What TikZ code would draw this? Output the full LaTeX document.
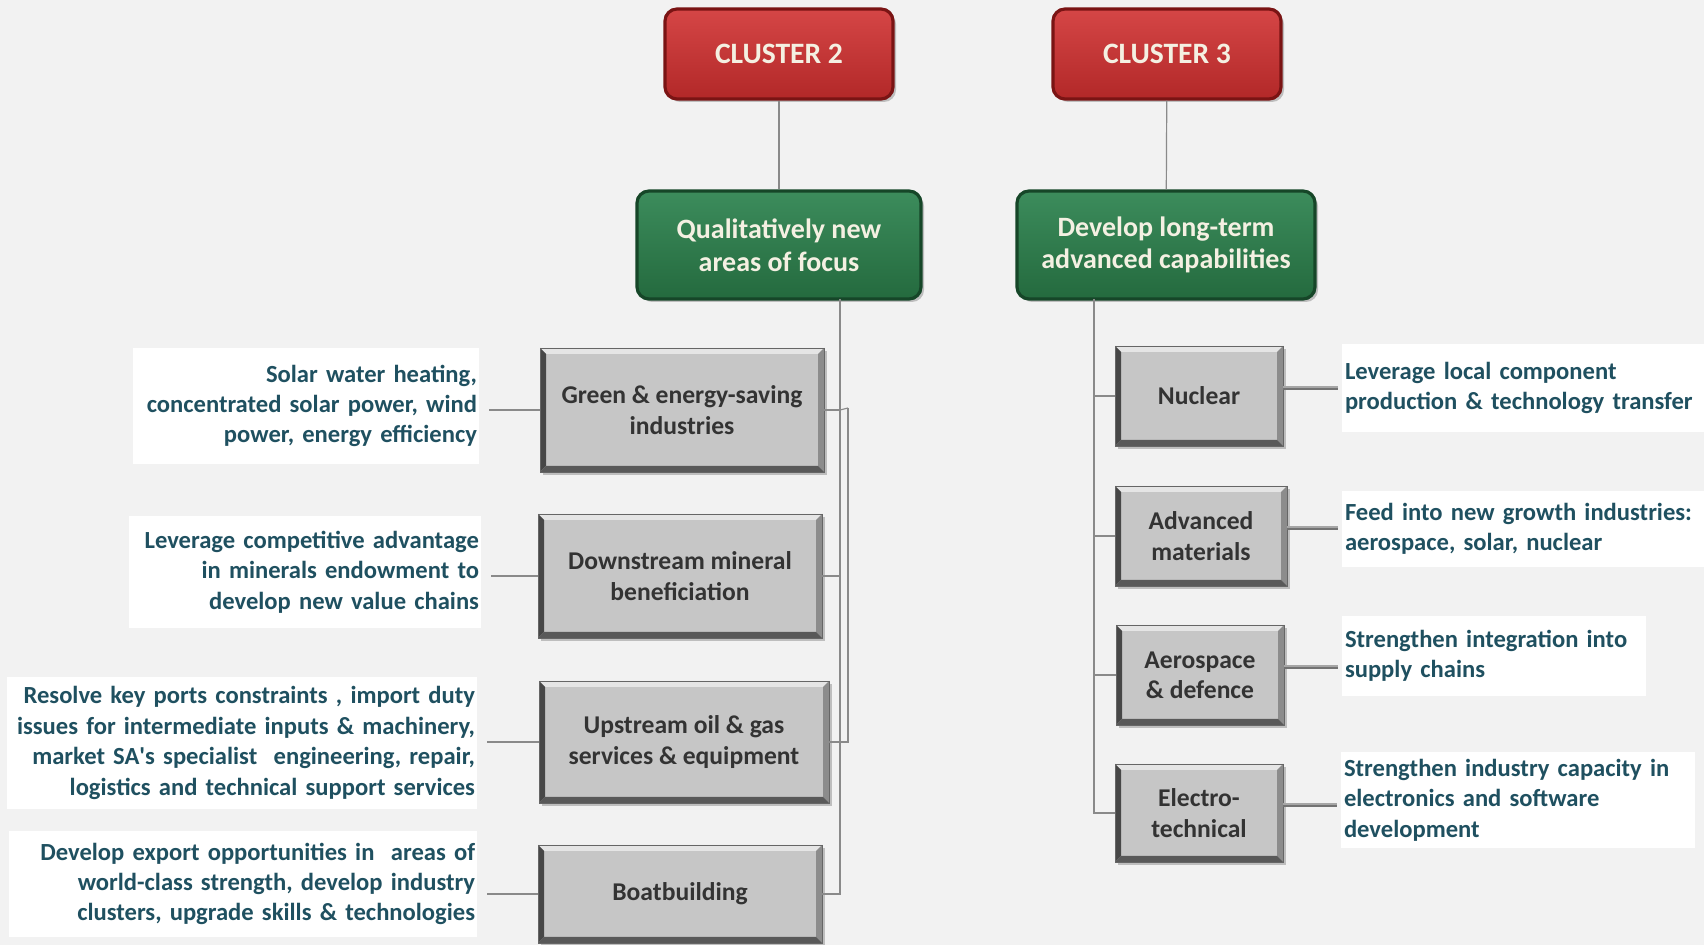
\documentclass[tikz,border=0pt]{standalone}
\usepackage{fontspec}
\setmainfont{Carlito}
\usetikzlibrary{positioning,shadows}

\definecolor{pagebg}{HTML}{F2F2F2}
\definecolor{clustertop}{HTML}{D54646}
\definecolor{clusterbot}{HTML}{B22828}
\definecolor{clusterrim}{HTML}{7A1414}
\definecolor{aimtop}{HTML}{3C8C5C}
\definecolor{aimbot}{HTML}{246A3E}
\definecolor{aimrim}{HTML}{164628}
\definecolor{labelcream}{HTML}{F4F0E2}
\definecolor{sectorfill}{HTML}{C6C6C6}
\definecolor{sectortext}{HTML}{333333}
\definecolor{notetext}{HTML}{1F5060}
\definecolor{linkgray}{HTML}{8A8A8A}

\tikzset{
	cluster/.style={draw=clusterrim, line width=1.6pt, rounded corners=6pt,
		top color=clustertop, bottom color=clusterbot, text=labelcream,
		font=\bfseries\fontsize{14.8}{17}\selectfont,
		minimum width=114pt, minimum height=45pt, inner sep=0pt,
		drop shadow={shadow xshift=1.5pt, shadow yshift=-1.5pt, opacity=0.45}},
	aim/.style={draw=aimrim, line width=1.6pt, rounded corners=6pt,
		top color=aimtop, bottom color=aimbot, text=labelcream, align=center,
		font=\bfseries\fontsize{14}{16.3}\selectfont,
		minimum width=142pt, minimum height=54pt, inner sep=0pt,
		drop shadow={shadow xshift=1.5pt, shadow yshift=-1.5pt, opacity=0.45}},
	sector/.style={fill=sectorfill, draw=black!60, line width=0.4pt,
		text=sectortext, align=center, inner sep=0pt,
		font=\bfseries\fontsize{12.8}{15.2}\selectfont,
		path picture={
			\coordinate (bvnw) at (path picture bounding box.north west);
			\coordinate (bvne) at (path picture bounding box.north east);
			\coordinate (bvsw) at (path picture bounding box.south west);
			\coordinate (bvse) at (path picture bounding box.south east);
			% bevel edges
			\fill[white!55!sectorfill] (bvnw) -- (bvne) -- ([shift={(-3pt,-3pt)}]bvne) -- ([shift={(3pt,-3pt)}]bvnw) -- cycle;
			\fill[black!45] (bvne) -- (bvse) -- ([shift={(-3pt,3pt)}]bvse) -- ([shift={(-3pt,-3pt)}]bvne) -- cycle;
			\fill[black!72] (bvnw) -- (bvsw) -- ([shift={(3pt,3pt)}]bvsw) -- ([shift={(3pt,-3pt)}]bvnw) -- cycle;
			\fill[black!65] (bvsw) -- (bvse) -- ([shift={(-3pt,3pt)}]bvse) -- ([shift={(3pt,3pt)}]bvsw) -- cycle;
		},
		drop shadow={shadow xshift=1.6pt, shadow yshift=-1.6pt, opacity=0.45}},
	note/.style={fill=white, text=notetext, inner xsep=1pt, inner ysep=2pt,
		font=\bfseries\fontsize{12.3}{15.2}\selectfont},
	link/.style={draw=linkgray, line width=0.6pt},
	tie/.style={draw=gray!70, line width=1.4pt,
		preaction={draw=black!55, line width=1.4pt, transform canvas={yshift=-0.9pt}}}
}

\begin{document}
\begin{tikzpicture}[x=0.5pt, y=-0.5pt]
	\fill[pagebg] (0,0) rectangle (1704,945);
	\useasboundingbox (0,0) rectangle (1704,945);

	% top row
	\node[cluster] (c2) at (779,54) {CLUSTER 2};
	\node[cluster] (c3) at (1167,54) {CLUSTER 3};
	\node[aim] (focus) at (779,245) {Qualitatively new\\areas of focus};
	\node[aim, minimum width=149pt] (longterm) at (1166,245) {Develop long-term\\advanced capabilities};

	% cluster 2 sectors
	\node[sector, minimum width=142pt, minimum height=62pt] (green) at (682,410) {Green \& energy-saving\\industries};
	\node[sector, minimum width=142pt, minimum height=62pt] (mineral) at (680,576) {Downstream mineral\\beneficiation};
	\node[sector, minimum width=145pt, minimum height=61pt] (oilgas) at (684,742) {Upstream oil \& gas\\services \& equipment};
	\node[sector, minimum width=142pt, minimum height=49pt] (boat) at (680,894) {Boatbuilding};

	% cluster 3 sectors
	\node[sector, minimum width=84pt, minimum height=50pt] (nuclear) at (1199,396) {Nuclear};
	\node[sector, minimum width=86pt, minimum height=50pt] (materials) at (1201,536) {Advanced\\materials};
	\node[sector, minimum width=84pt, minimum height=50pt] (aero) at (1200,675) {Aerospace\\\& defence};
	\node[sector, minimum width=84pt, minimum height=49pt] (electro) at (1199,813) {Electro-\\technical};

	% notes, left
	\node[note, minimum width=173pt, minimum height=58pt, text width=171pt, align=right] (solarnote) at (306,406)
		{Solar water heating,\\concentrated solar power, wind\\power, energy efficiency};
	\node[note, minimum width=176pt, minimum height=56pt, text width=174pt, align=right] (mineralnote) at (305,572)
		{Leverage competitive advantage\\in minerals endowment to\\develop new value chains};
	\node[note, minimum width=235pt, minimum height=66pt, text width=233pt, align=right] (oilgasnote) at (242,743)
		{Resolve key ports constraints , import duty\\issues for intermediate inputs \& machinery,\\market SA\textquotesingle s specialist\ \ engineering, repair,\\logistics and technical support services};
	\node[note, minimum width=234pt, minimum height=53pt, text width=232pt, align=right] (boatnote) at (243,884)
		{Develop export opportunities in\ \ areas of\\world-class strength, develop industry\\clusters, upgrade skills \& technologies};

	% notes, right
	\node[note, minimum width=181pt, minimum height=44pt, text width=178pt, align=left] (nuclearnote) at (1523,388)
		{Leverage local component\\production \& technology transfer};
	\node[note, minimum width=181pt, minimum height=38pt, text width=178pt, align=left] (materialsnote) at (1523,529)
		{Feed into new growth industries:\\aerospace, solar, nuclear};
	\node[note, minimum width=152pt, minimum height=40pt, text width=149pt, align=left] (aeronote) at (1494,656)
		{Strengthen integration into\\supply chains};
	\node[note, minimum width=177pt, minimum height=48pt, text width=174pt, align=left] (electronote) at (1518,800)
		{Strengthen industry capacity in\\electronics and software\\development};

	% cluster links
	\draw[link] (c2) -- (focus);
	\draw[link] (c3) -- (longterm);

	% left tree
	\coordinate (trunkL) at (840,299);
	\coordinate (sideL) at (848,408);
	\draw[link] (trunkL) |- (boat.east);
	\draw[link] (green.east) -- (green.east -| trunkL);
	\draw[link] (mineral.east) -- (mineral.east -| trunkL);
	\draw[link] (oilgas.east) -| (sideL);
	\draw[link] (green.east -| trunkL) -- (sideL);

	% right tree
	\coordinate (trunkR) at (1094,299);
	\draw[link] (trunkR) |- (electro.west);
	\foreach \s in {nuclear, materials, aero}
		\draw[link] (\s.west -| trunkR) -- (\s.west);

	% notes to sectors
	\foreach \s/\n in {green/solarnote, mineral/mineralnote, oilgas/oilgasnote, boat/boatnote}
		\draw[link, shorten >=5pt] (\s.west) -- (\s.west -| \n.east);
	\foreach \s/\n in {nuclear/nuclearnote, materials/materialsnote, aero/aeronote, electro/electronote}
		\draw[tie, shorten >=2pt] ([yshift=4.5pt]\s.east) -- ([yshift=4.5pt]\s.east -| \n.west);
\end{tikzpicture}
\end{document}
